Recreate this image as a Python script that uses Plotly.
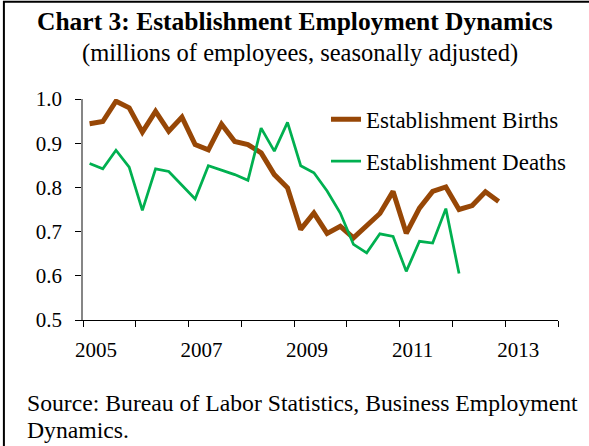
import plotly.graph_objects as go

# quarterly data, millions of employees (seasonally adjusted)
quarters = [f"{y}Q{q}" for y in range(2005, 2013) for q in range(1, 5)]

births = [0.944, 0.949, 0.995, 0.980, 0.925, 0.972, 0.927, 0.959,
          0.897, 0.885, 0.943, 0.904, 0.897, 0.878, 0.829, 0.799,
          0.705, 0.742, 0.696, 0.712, 0.686, 0.714, 0.741, 0.791,
          0.696, 0.753, 0.791, 0.801, 0.750, 0.759, 0.790, 0.768]

deaths = [0.854, 0.842, 0.884, 0.846, 0.748, 0.842, 0.836, 0.806,
          0.774, 0.849, 0.839, 0.829, 0.816, 0.934, 0.882, 0.947,
          0.849, 0.833, 0.792, 0.742, 0.671, 0.652, 0.695, 0.689,
          0.610, 0.678, 0.674, 0.752, 0.605]

year_ticks = list(range(2005, 2015))
year_labels = [str(y) if y % 2 == 1 else "" for y in year_ticks]

source_lines = ["Source: Bureau of Labor Statistics, Business Employment",
                "Dynamics."]


def qpos(label):
    # middle of the quarter, in decimal years
    return int(label[:4]) + (int(label[-1]) - 0.5) / 4


x = [qpos(q) for q in quarters]

W, H = 589, 446
L, R, T, B = 82.7, 30.7, 99.3, 125.5
pw, ph = W - L - R, H - T - B


def px(xp):
    # screen x pixel -> paper
    return (xp - L) / pw


def py(yp):
    # screen y pixel -> paper
    return (H - B - yp) / ph


colors = {
    'births': '#974706',
    'deaths': '#00B050',
    'text': '#000000',
    'axis': '#868686',
}
serif = "Liberation Serif, Times New Roman, serif"

fig = go.Figure()

fig.add_trace(go.Scatter(
    x=x, y=births, mode='lines', name='Establishment Births',
    line=dict(color=colors['births'], width=5), legendgroup='b'
))
fig.add_trace(go.Scatter(
    x=x[:len(deaths)], y=deaths, mode='lines', name='Establishment Deaths',
    line=dict(color=colors['deaths'], width=2.75), legendgroup='d'
))

fig.update_layout(
    width=W, height=H,
    margin=dict(l=L, r=R, t=T, b=B),
    paper_bgcolor='white', plot_bgcolor='white',
    font=dict(family=serif, size=21, color=colors['text']),
    showlegend=True,
    legend=dict(x=px(326), y=py(98), xanchor='left', yanchor='top',
                bgcolor='rgba(0,0,0,0)', font=dict(size=23),
                traceorder='grouped', tracegroupgap=9),
)

fig.update_xaxes(
    range=[2005, 2014], tickmode='array', tickvals=year_ticks,
    ticktext=year_labels, ticks='outside', ticklen=6, tickcolor='black',
    showline=True, linecolor='black', linewidth=1, showgrid=False,
    zeroline=False, ticklabelshift=13, ticklabelstandoff=5,
)
fig.update_yaxes(
    range=[0.5, 1.0], dtick=0.1, tickformat='.1f', ticks='outside',
    ticklen=6, tickcolor='black', showline=True, linecolor=colors['axis'],
    linewidth=1.5, showgrid=False, zeroline=False, ticklabelstandoff=9,
)

fig.add_annotation(
    text="<b>Chart 3: Establishment Employment Dynamics</b>",
    xref='paper', yref='paper', x=px(295), y=py(22),
    showarrow=False, font=dict(size=25.5), xanchor='center', yanchor='middle'
)
fig.add_annotation(
    text="(millions of employees, seasonally adjusted)",
    xref='paper', yref='paper', x=px(300), y=py(53),
    showarrow=False, font=dict(size=24.5), xanchor='center', yanchor='middle'
)
for line, ypix in zip(source_lines, [404, 431]):
    fig.add_annotation(
        text=line, xref='paper', yref='paper', x=px(25), y=py(ypix),
        showarrow=False, font=dict(size=23.7), xanchor='left',
        yanchor='middle', align='left'
    )

# outer frame
fig.add_shape(type='rect', xref='paper', yref='paper',
              x0=px(3.5), x1=px(640), y0=py(2), y1=py(480),
              line=dict(color='black', width=2))

fig.update_layout(modebar=dict(remove=['toImage']))

# drop the default body margin so the figure fills the window
fig.write_html("out.html", config={'displayModeBar': False},
               post_script="document.body.style.margin='0';")
